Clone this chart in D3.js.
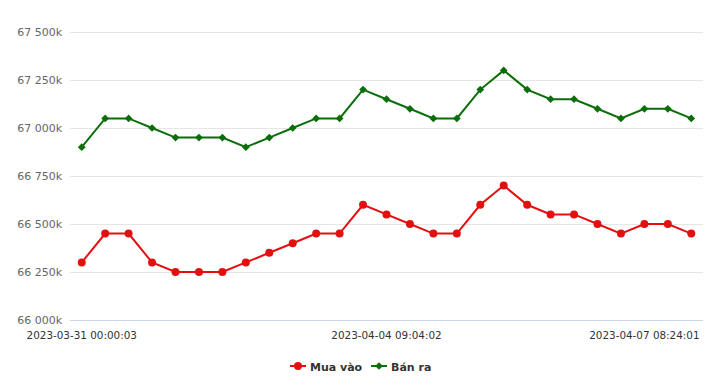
<!DOCTYPE html>
<html>
<head>
<meta charset="utf-8">
<script src="https://cdn.jsdelivr.net/npm/d3@7"></script>
<style>
  body { margin: 0; background: #fff; font-family: "Lucida Grande", "DejaVu Sans", "Open Sans", Arial, sans-serif; }
  .grid line { stroke: #e6e6e6; }
  .axis text { fill: #666; font-size: 11px; }
</style>
</head>
<body>
<div id="chart"></div>
<script>
// values in k (thousand)
var muaVao = [66300, 66450, 66450, 66300, 66250, 66250, 66250, 66300, 66350, 66400, 66450, 66450, 66600, 66550, 66500, 66450, 66450, 66600, 66700, 66600, 66550, 66550, 66500, 66450, 66500, 66500, 66450];
var banRa = [66900, 67050, 67050, 67000, 66950, 66950, 66950, 66900, 66950, 67000, 67050, 67050, 67200, 67150, 67100, 67050, 67050, 67200, 67300, 67200, 67150, 67150, 67100, 67050, 67100, 67100, 67050];
var yTicks = [66000, 66250, 66500, 66750, 67000, 67250, 67500];
var xTickIndex = [0, 13, 24];
var xTickLabels = ["2023-03-31 00:00:03", "2023-04-04 09:04:02", "2023-04-07 08:24:01"];

var series = [
  { name: "Mua vào", values: muaVao, color: "#e31010", symbol: d3.symbolCircle, size: 50, rot: 0 },
  { name: "Bán ra", values: banRa, color: "#0b6e0b", symbol: d3.symbolSquare, size: 30, rot: 45 }
];

var W = 720, H = 389;
var margin = { top: 32, right: 17, bottom: 69, left: 70 };
var width = W - margin.left - margin.right,
    height = H - margin.top - margin.bottom;

var svg = d3.select("#chart").append("svg")
  .attr("width", W)
  .attr("height", H);

var g = svg.append("g")
  .attr("transform", "translate(" + margin.left + "," + margin.top + ")");

var x = d3.scalePoint()
  .domain(d3.range(muaVao.length))
  .range([0, width])
  .padding(0.5);

var y = d3.scaleLinear()
  .domain([66000, 67500])
  .range([height, 0]);

var fmt = function(d) { return d3.format(",")(d).replace(",", " ") + "k"; };

// grid
g.append("g").attr("class", "grid")
  .selectAll("line")
  .data(yTicks.slice(1))
  .enter().append("line")
  .attr("x1", 0).attr("x2", width)
  .attr("y1", function(d) { return y(d) + 0.5; })
  .attr("y2", function(d) { return y(d) + 0.5; });

// y labels
g.append("g").attr("class", "axis")
  .selectAll("text")
  .data(yTicks)
  .enter().append("text")
  .attr("x", -8)
  .attr("y", function(d) { return y(d) + 4; })
  .attr("text-anchor", "end")
  .text(fmt);

// x axis line
g.append("line")
  .attr("x1", 0).attr("x2", width)
  .attr("y1", height + 0.5).attr("y2", height + 0.5)
  .attr("stroke", "#ccd6eb");

// x labels
g.append("g").attr("class", "axis")
  .selectAll("text")
  .data(xTickIndex)
  .enter().append("text")
  .attr("x", function(d) { return x(d); })
  .attr("y", height + 19)
  .attr("text-anchor", "middle")
  .style("fill", "#333")
  .style("font-size", "10.4px")
  .text(function(d, i) { return xTickLabels[i]; });

var line = d3.line()
  .x(function(d, i) { return x(i); })
  .y(function(d) { return y(d); });

series.forEach(function(s) {
  g.append("path")
    .datum(s.values)
    .attr("fill", "none")
    .attr("stroke", s.color)
    .attr("stroke-width", 2)
    .attr("d", line);

  g.selectAll(null)
    .data(s.values)
    .enter().append("path")
    .attr("transform", function(d, i) { return "translate(" + x(i) + "," + y(d) + ") rotate(" + s.rot + ")"; })
    .attr("d", d3.symbol().type(s.symbol).size(s.size))
    .attr("fill", s.color);
});

// legend
var legend = svg.append("g").attr("transform", "translate(0," + 366 + ")");
var itemX = [290, 371];
series.forEach(function(s, i) {
  var it = legend.append("g").attr("transform", "translate(" + itemX[i] + ",0)");
  it.append("line")
    .attr("x1", 0).attr("x2", 16)
    .attr("stroke", s.color).attr("stroke-width", 2);
  it.append("path")
    .attr("transform", "translate(8,0) rotate(" + s.rot + ")")
    .attr("d", d3.symbol().type(s.symbol).size(s.size))
    .attr("fill", s.color);
  it.append("text")
    .attr("x", 20)
    .attr("y", 4.5)
    .style("font-size", "11px")
    .style("font-weight", "bold")
    .style("fill", "#333")
    .text(s.name);
});
</script>
</body>
</html>
